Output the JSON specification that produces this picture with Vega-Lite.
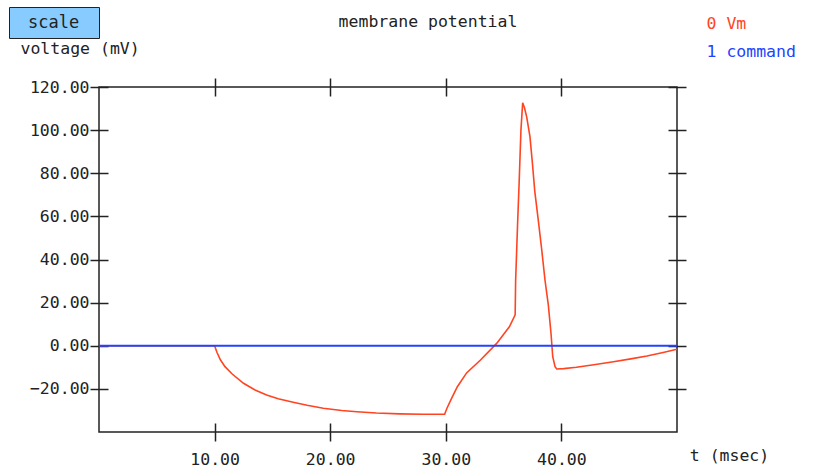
{
  "$schema": "https://vega.github.io/schema/vega-lite/v6.json",
  "width": 578,
  "height": 345,
  "autosize": "none",
  "padding": {"left": 99, "top": 87, "right": 162, "bottom": 33},
  "background": "white",
  "title": {"text": "membrane potential", "anchor": "middle", "dx": 40, "offset": -24, "font": "DejaVu Sans Mono", "fontSize": 16.5, "fontWeight": "normal", "color": "#222222"},
  "config": {
    "view": {"stroke": "#222222", "strokeWidth": 1.5},
    "font": "DejaVu Sans Mono",
    "axis": {"labelFont": "DejaVu Sans Mono", "labelFontSize": 16.5, "labelColor": "#222222", "titleFont": "DejaVu Sans Mono", "titleFontSize": 16.5, "titleFontWeight": "normal", "titleColor": "#222222", "tickColor": "#222222", "tickWidth": 1.5, "domain": false, "grid": false}
  },
  "datasets": {
    "vm": [
      {"t": 0, "v": 0}, {"t": 10, "v": 0}, {"t": 10.2, "v": -3}, {"t": 10.5, "v": -6.5}, {"t": 10.9, "v": -9.7},
      {"t": 11.5, "v": -13}, {"t": 12.5, "v": -17.4}, {"t": 13.5, "v": -20.5}, {"t": 14.5, "v": -22.8},
      {"t": 15.5, "v": -24.6}, {"t": 16.8, "v": -26.2}, {"t": 18, "v": -27.6}, {"t": 19.4, "v": -29.0},
      {"t": 21, "v": -30}, {"t": 22.3, "v": -30.6}, {"t": 24, "v": -31.2}, {"t": 26, "v": -31.6},
      {"t": 28, "v": -31.8}, {"t": 29.9, "v": -31.8}, {"t": 30.1, "v": -29}, {"t": 30.5, "v": -24.4},
      {"t": 31.0, "v": -19}, {"t": 31.8, "v": -12.6}, {"t": 33.0, "v": -6.6}, {"t": 34.4, "v": 1.1},
      {"t": 35.5, "v": 8.8}, {"t": 36.0, "v": 14.3}, {"t": 36.04, "v": 30}, {"t": 36.2, "v": 55},
      {"t": 36.36, "v": 78}, {"t": 36.5, "v": 100}, {"t": 36.57, "v": 106}, {"t": 36.65, "v": 112.7},
      {"t": 36.8, "v": 110.5}, {"t": 37.0, "v": 106}, {"t": 37.28, "v": 97}, {"t": 37.48, "v": 85.4},
      {"t": 37.7, "v": 71.5}, {"t": 38.0, "v": 58.3}, {"t": 38.3, "v": 44.4}, {"t": 38.58, "v": 30.5},
      {"t": 38.87, "v": 18.8}, {"t": 39.1, "v": 5.8}, {"t": 39.25, "v": -5.1}, {"t": 39.45, "v": -9.7},
      {"t": 39.6, "v": -10.8}, {"t": 40.2, "v": -10.6}, {"t": 41.3, "v": -10.0}, {"t": 42.8, "v": -8.8},
      {"t": 44.5, "v": -7.4}, {"t": 46, "v": -6.1}, {"t": 47.4, "v": -4.75}, {"t": 48.8, "v": -3.1}, {"t": 50, "v": -1.6}
    ],
    "cmd": [{"t": 0, "v": 0}, {"t": 50, "v": 0}]
  },
  "layer": [
    {
      "data": {"name": "vm"},
      "mark": {"type": "line", "strokeWidth": 1.6, "clip": true},
      "encoding": {
        "x": {"field": "t", "type": "quantitative", "scale": {"domain": [0, 50], "nice": false, "zero": false},
          "axis": {"orient": "bottom", "values": [10, 20, 30, 40], "format": ".2f", "tickSize": 18, "offset": -9, "labelPadding": 10, "labelBaseline": "top",
            "title": "t (msec)", "titleX": 630, "titleY": 32, "titleAlign": "center", "titleBaseline": "middle", "titleAnchor": null}},
        "y": {"field": "v", "type": "quantitative", "scale": {"domain": [-40, 120], "nice": false, "zero": false},
          "axis": {"orient": "left", "values": [-20, 0, 20, 40, 60, 80, 100, 120], "format": ".2f", "tickSize": 18, "offset": -9, "labelPadding": 1,
            "title": "voltage (mV)", "titleAngle": 0, "titleX": -88, "titleY": -39, "titleAlign": "left", "titleBaseline": "middle", "titleAnchor": null}},
        "color": {"datum": "0 Vm", "type": "nominal",
          "scale": {"domain": ["0 Vm", "1 command"], "range": ["#ff4422", "#2244ff"]},
          "legend": {"title": null, "orient": "none", "legendX": 591, "legendY": -71, "padding": 0.01, "rowPadding": 11,
            "symbolSize": 0.01, "symbolOpacity": 0, "symbolStrokeWidth": 0, "labelOffset": 0.01,
            "labelFont": "DejaVu Sans Mono", "labelFontSize": 16.5,
            "encode": {"labels": {"update": {"fill": {"scale": "color", "field": "value"}}}}}}
      }
    },
    {
      "data": {"name": "cmd"},
      "mark": {"type": "line", "strokeWidth": 2, "clip": true},
      "encoding": {
        "x": {"field": "t", "type": "quantitative",
          "axis": {"orient": "top", "values": [10, 20, 30, 40], "labels": false, "tickSize": 18, "offset": -9, "title": null}},
        "y": {"field": "v", "type": "quantitative",
          "axis": {"orient": "right", "values": [-20, 0, 20, 40, 60, 80, 100, 120], "labels": false, "tickSize": 18, "offset": -9, "title": null}},
        "color": {"datum": "1 command", "type": "nominal"},
        "strokeDash": {"datum": "scale", "type": "nominal",
          "scale": {"range": [[1, 0]]},
          "legend": {"title": null, "orient": "none", "legendX": -90, "legendY": -80, "padding": 7,
            "fillColor": "#88ccff", "strokeColor": "#222222",
            "symbolType": "circle", "symbolSize": 144, "symbolOpacity": 0, "symbolStrokeWidth": 0, "labelOffset": -5,
            "labelFont": "DejaVu Sans Mono", "labelFontSize": 17, "labelColor": "#222222",
            "labelExpr": "datum.label + '\u2800'"}}
      }
    }
  ],
  "resolve": {"axis": {"x": "independent", "y": "independent"}}
}
